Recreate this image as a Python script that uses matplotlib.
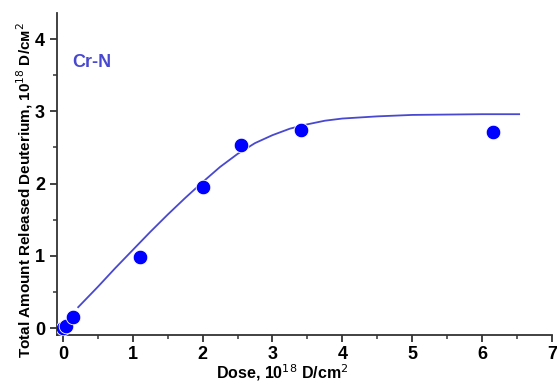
import matplotlib
matplotlib.use("Agg")
import matplotlib.pyplot as plt
from matplotlib.ticker import MultipleLocator

plt.rcParams["font.family"] = ["Liberation Sans", "DejaVu Sans"]

# measured points (dose, released D), units of 1e18 D/cm^2
dose     = [0.0, 0.05, 0.14, 1.10, 2.01, 2.55, 3.41, 6.15]
released = [0.0, 0.03, 0.16, 0.99, 1.95, 2.53, 2.74, 2.71]

# fit curve
fit_x = [0.22, 0.5, 0.75, 1.0, 1.25, 1.5, 1.75, 2.0, 2.25, 2.5, 2.75, 3.0,
         3.25, 3.5, 3.75, 4.0, 4.5, 5.0, 5.5, 6.0, 6.53]
fit_y = [0.29, 0.57, 0.83, 1.08, 1.33, 1.57, 1.80, 2.02, 2.23, 2.41, 2.56, 2.67,
         2.76, 2.82, 2.87, 2.90, 2.93, 2.95, 2.955, 2.96, 2.96]

LINE_C = "#4848d0"
DOT_C  = "#0000ff"

fig = plt.figure(figsize=(5.57, 3.83), dpi=100)
ax = fig.add_axes([0.102, 0.125, 0.889, 0.841])

ax.plot(fit_x, fit_y, color=LINE_C, lw=1.3, zorder=2)
ax.plot(dose, released, "o", color=DOT_C, ms=10.5, mec="white", mew=0.6, zorder=3)

ax.text(0.14, 3.67, "Cr-N", color=LINE_C, fontsize=13, fontweight="bold",
        va="center", ha="left")

ax.set_xlim(-0.086, 7.0)
ax.set_ylim(-0.097, 4.36)
ax.xaxis.set_major_locator(MultipleLocator(1))
ax.xaxis.set_minor_locator(MultipleLocator(0.5))
ax.yaxis.set_major_locator(MultipleLocator(1))
ax.yaxis.set_minor_locator(MultipleLocator(0.5))

for s in ("top", "right"):
    ax.spines[s].set_visible(False)
for s in ("left", "bottom"):
    ax.spines[s].set_linewidth(1.3)
    ax.spines[s].set_color("#333333")

ax.tick_params(which="major", direction="out", length=5, width=1.3,
               color="#333333", labelsize=13)
ax.tick_params(axis="x", which="major", pad=3)
ax.tick_params(which="minor", direction="out", length=3, width=1.1,
               color="#333333")
for lab in ax.get_xticklabels() + ax.get_yticklabels():
    lab.set_fontweight("bold")

ax.set_xlabel("Dose, 10$^{18}$ D/cm$^2$", fontsize=11.5, fontweight="bold",
              va="bottom")
ax.xaxis.set_label_coords(0.455, -0.148)
ax.set_ylabel("Total Amount Released Deuterium, 10$^{18}$ D/см$^2$",
              fontsize=11, fontweight="bold", va="center")
ax.yaxis.set_label_coords(-0.065, 0.45)

fig.savefig("out.png", dpi=100)
